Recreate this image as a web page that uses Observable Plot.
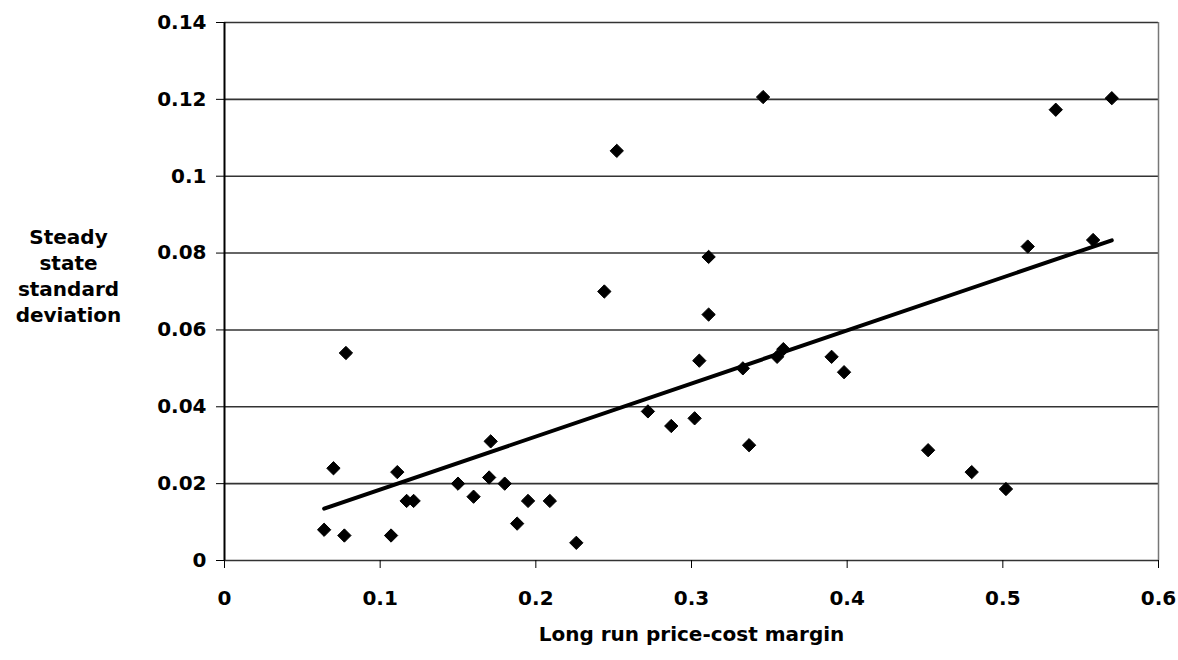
<!DOCTYPE html>
<html>
<head>
<meta charset="utf-8">
<script src="https://cdn.jsdelivr.net/npm/d3@7"></script>
<script src="https://cdn.jsdelivr.net/npm/@observablehq/plot@0.6"></script>
<style>
  html, body { margin: 0; padding: 0; background: #fff; }
  #chart svg { display: block; }
</style>
</head>
<body>
<div id="chart"></div>
<script>
// Long run price-cost margin (x) vs steady state standard deviation (y)
const margins = [0.064, 0.070, 0.077, 0.078, 0.107, 0.111, 0.117, 0.1215, 0.150, 0.160,
                 0.170, 0.171, 0.180, 0.188, 0.195, 0.209, 0.226, 0.244, 0.252, 0.272,
                 0.287, 0.302, 0.305, 0.311, 0.311, 0.333, 0.337, 0.346, 0.355, 0.359,
                 0.390, 0.398, 0.452, 0.480, 0.502, 0.516, 0.534, 0.558, 0.570];
const stdevs  = [0.008, 0.024, 0.0065, 0.054, 0.0065, 0.023, 0.0155, 0.0155, 0.020, 0.0166,
                 0.0216, 0.031, 0.020, 0.0096, 0.0155, 0.0155, 0.0046, 0.070, 0.1066, 0.0388,
                 0.035, 0.037, 0.052, 0.064, 0.079, 0.050, 0.030, 0.1206, 0.053, 0.055,
                 0.053, 0.049, 0.0287, 0.023, 0.0186, 0.0817, 0.1173, 0.0834, 0.1203];
const xTicks = [0, 0.1, 0.2, 0.3, 0.4, 0.5, 0.6];
const xTickLabels = ["0", "0.1", "0.2", "0.3", "0.4", "0.5", "0.6"];
const yTicks = [0, 0.02, 0.04, 0.06, 0.08, 0.1, 0.12, 0.14];
const yTickLabels = ["0", "0.02", "0.04", "0.06", "0.08", "0.1", "0.12", "0.14"];
const xLabel = "Long run price-cost margin";
const yLabel = "Steady\nstate\nstandard\ndeviation";

const points = margins.map((m, i) => ({x: m, y: stdevs[i]}));
const fontFamily = "'DejaVu Sans', sans-serif";

const chart = Plot.plot({
  width: 1178,
  height: 660,
  marginLeft: 224,
  marginRight: 20,
  marginTop: 22,
  marginBottom: 100,
  style: {fontFamily, fontWeight: "bold", fontSize: "20px", color: "#000", background: "#fff"},
  x: {domain: [0, 0.6]},
  y: {domain: [0, 0.14]},
  marks: [
    Plot.ruleY(yTicks, {stroke: "#333", strokeWidth: 1.6}),
    Plot.ruleX([0.6], {stroke: "#777", strokeWidth: 1.5}),
    Plot.ruleX([0], {stroke: "#000", strokeWidth: 2}),
    Plot.axisY({ticks: yTicks, tickFormat: d => yTickLabels[yTicks.indexOf(d)], tickSize: 8, tickPadding: 10,
                label: null, fontSize: 20, fontWeight: "bold"}),
    Plot.axisX({ticks: xTicks, tickFormat: d => xTickLabels[xTicks.indexOf(d)], tickSize: 8, tickPadding: 22,
                label: null, fontSize: 20, fontWeight: "bold"}),
    Plot.linearRegressionY(points, {x: "x", y: "y", ci: 0, stroke: "#000", strokeWidth: 4}),
    Plot.dot(points, {x: "x", y: "y", symbol: "diamond2", r: 6, fill: "#000", stroke: "#000", strokeWidth: 1}),
    Plot.text([xLabel], {frameAnchor: "bottom", dy: 80, fontSize: 20, fontWeight: "bold", fill: "#000"}),
    Plot.text([yLabel], {frameAnchor: "left", dx: -156, dy: -17, textAnchor: "middle", lineHeight: 1.3,
                         fontSize: 20, fontWeight: "bold", fill: "#000"})
  ]
});
document.getElementById("chart").appendChild(chart);
</script>
</body>
</html>
